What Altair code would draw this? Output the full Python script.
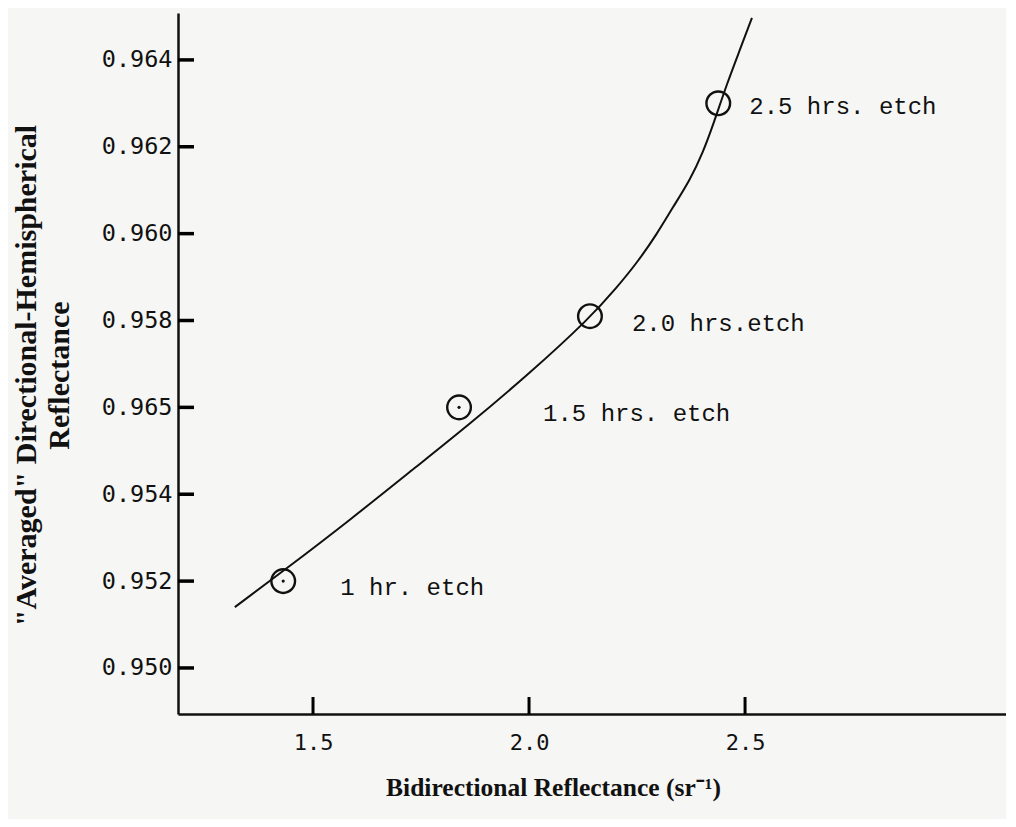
import altair as alt
import pandas as pd

etch_x = [1.431, 1.838, 2.141, 2.438]
etch_y = [0.9520, 0.9560, 0.9581, 0.9630]
etch_label = ["1 hr. etch", "1.5 hrs. etch", "2.0 hrs.etch", "2.5 hrs. etch"]
etch_dot = [True, True, False, False]

curve_x = [1.319, 1.431, 1.586, 1.741, 1.857, 2.000, 2.141, 2.204, 2.250, 2.296,
           2.333, 2.373, 2.403, 2.426, 2.458, 2.488, 2.516]
curve_y = [0.95140, 0.95223, 0.95341, 0.95465, 0.95557, 0.95677, 0.95806, 0.95877,
           0.95933, 0.95999, 0.96061, 0.96124, 0.96188, 0.96250, 0.96345, 0.96423,
           0.96497]

y_ticks = [0.950, 0.952, 0.954, 0.956, 0.958, 0.960, 0.962, 0.964]
x_ticks = [1.5, 2.0, 2.5]

X_MIN, X_MAX = 1.1875, 3.104
Y_MIN, Y_MAX = 0.94894, 0.96508

W, H = 828, 701
INK = "#111111"
BG = "#f6f6f4"

pts = pd.DataFrame({"x": etch_x, "y": etch_y, "label": etch_label, "dot": etch_dot})
curve = pd.DataFrame({"x": curve_x, "y": curve_y})

xscale = alt.Scale(domain=[X_MIN, X_MAX], nice=False, zero=False)
yscale = alt.Scale(domain=[Y_MIN, Y_MAX], nice=False, zero=False)

xaxis = alt.Axis(
    values=x_ticks, format=".1f", ticks=False, grid=False,
    domainColor=INK, domainWidth=2.5,
    labelFont="DejaVu Sans Mono", labelFontSize=22, labelColor=INK, labelPadding=18,
    title="Bidirectional Reflectance (sr\u207b\u00b9)",
    titleFont="Liberation Serif", titleFontSize=25.5, titleFontWeight="bold", titleColor=INK,
    titleX=375, titleY=81, titleAnchor="start", titleAlign="center", titleBaseline="alphabetic",
)
yaxis = alt.Axis(
    values=y_ticks, ticks=False, grid=False,
    labelExpr="abs(datum.value - 0.956) < 1e-6 ? '0.965' : format(datum.value, '.3f')",
    domainColor=INK, domainWidth=2.5,
    labelFont="DejaVu Sans Mono", labelFontSize=23.5, labelColor=INK, labelPadding=6,
    title=['"Averaged" Directional-Hemispherical', "Reflectance"],
    titleFont="Liberation Serif", titleFontSize=30, titleFontWeight="bold", titleColor=INK,
    titleAngle=-90, titleX=-167, titleY=362, titleAlign="center", titleBaseline="top",
    titleLineHeight=33,
)

X = alt.X("x:Q", scale=xscale, axis=xaxis)
Y = alt.Y("y:Q", scale=yscale, axis=yaxis)

line = alt.Chart(curve).mark_line(color=INK, strokeWidth=2, interpolate="basis").encode(x=X, y=Y)

circles = alt.Chart(pts).mark_point(
    shape="circle", size=560, filled=False, color=INK, strokeWidth=2.4, opacity=1
).encode(x=X, y=Y)

dots = alt.Chart(pts).transform_filter("datum.dot").mark_point(
    shape="circle", size=10, filled=True, color=INK, opacity=1
).encode(x=X, y=Y)

label_offsets = [(57, 7), (84, 7), (42, 8), (31, 4)]
label_layers = []
for lab, (dx, dy) in zip(etch_label, label_offsets):
    label_layers.append(
        alt.Chart(pts).transform_filter(alt.datum.label == lab).mark_text(
            align="left", baseline="middle", dx=dx, dy=dy,
            font="Liberation Mono", fontSize=24, color=INK, fontWeight=500,
        ).encode(x=X, y=Y, text="label:N")
    )

yt = pd.DataFrame({"ty": y_ticks})
xt = pd.DataFrame({"tx": x_ticks})
# inward-pointing tick marks
ytick_marks = alt.Chart(yt).mark_rule(color="#000000", strokeWidth=3.5).encode(
    y=alt.Y("ty:Q", scale=yscale, axis=yaxis), x=alt.value(0), x2=alt.value(16)
)
xtick_marks = alt.Chart(xt).mark_rule(color="#000000", strokeWidth=3).encode(
    x=alt.X("tx:Q", scale=xscale, axis=xaxis), y=alt.value(H), y2=alt.value(H - 17)
)

chart = alt.layer(line, circles, dots, *label_layers, ytick_marks, xtick_marks).properties(
    width=W, height=H,
    autosize=alt.AutoSizeParams(type="none"),
    padding={"left": 170, "top": 5, "right": 0, "bottom": 105},
    background=BG,
).configure_view(stroke=None)

chart.save("out.html", embed_options={"renderer": "svg", "actions": False})
